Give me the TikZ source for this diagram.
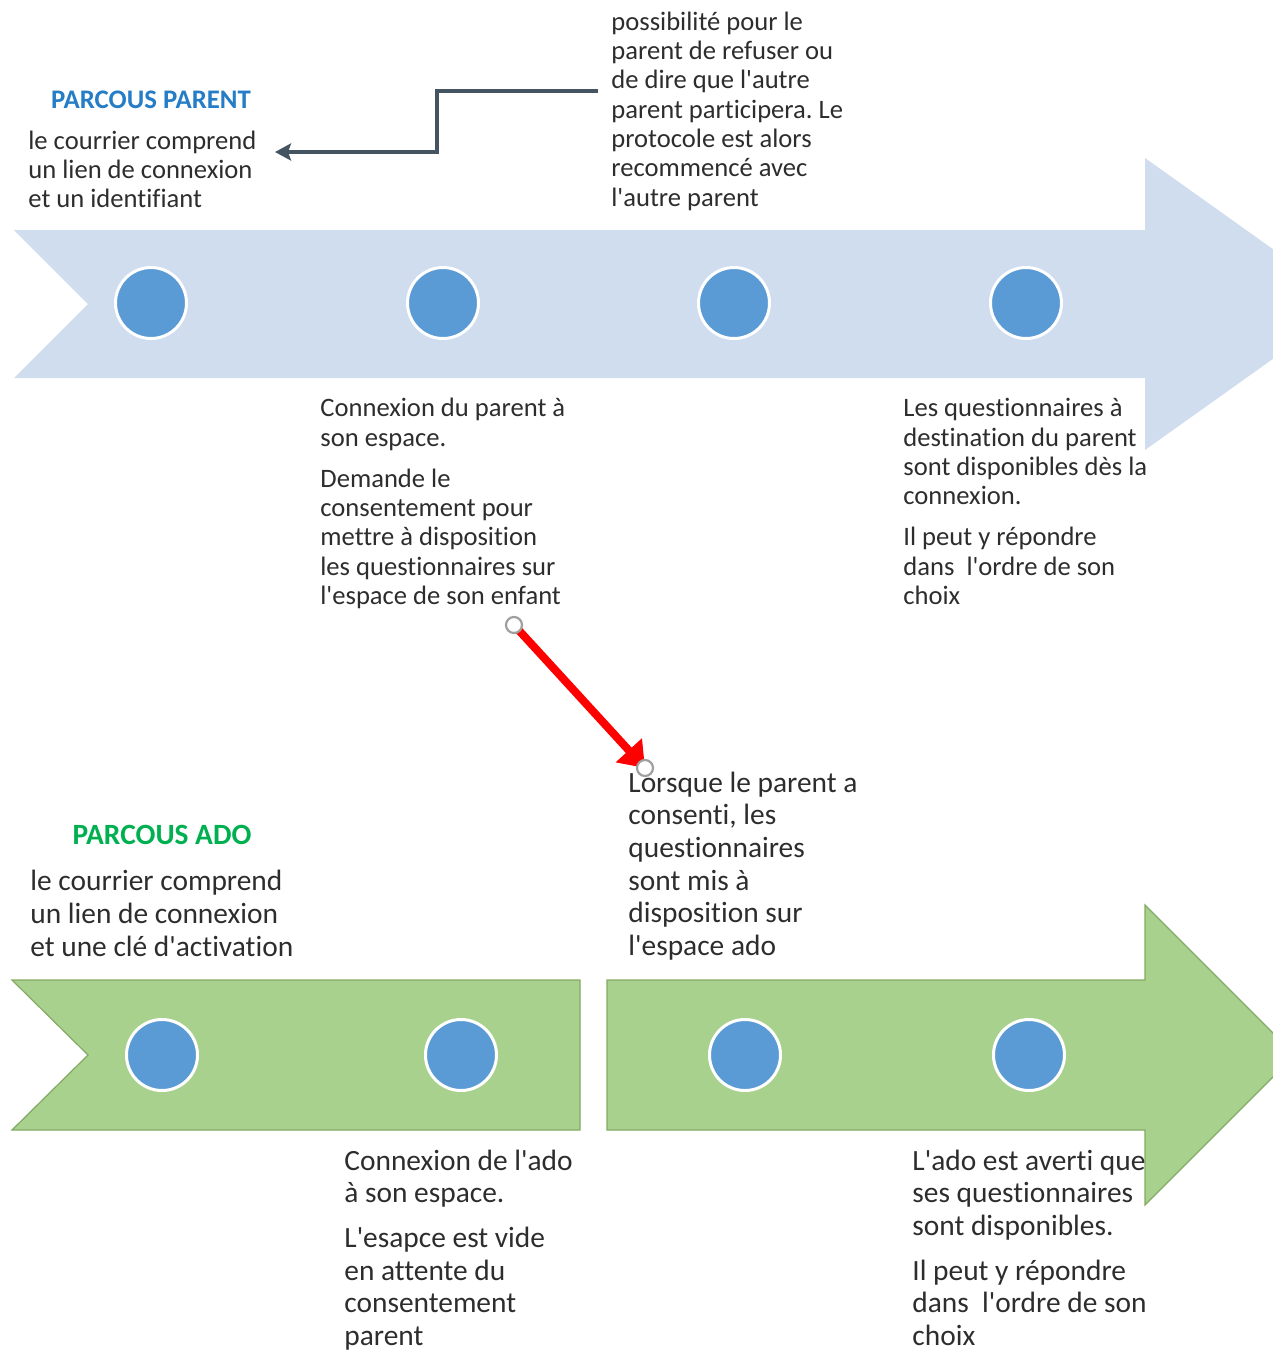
\documentclass[tikz,border=0pt]{standalone}
\usepackage{fontspec}
\setmainfont{Carlito}[Ligatures=NoCommon]
\usetikzlibrary{arrows.meta}
\definecolor{bluearrow}{RGB}{207,221,238}
\definecolor{greenarrow}{RGB}{169,209,142}
\definecolor{greenedge}{RGB}{130,170,100}
\definecolor{dotblue}{RGB}{91,155,213}
\definecolor{txtgray}{RGB}{45,45,45}
\definecolor{parentblue}{RGB}{36,125,198}
\definecolor{adogreen}{RGB}{0,176,80}
\definecolor{connslate}{RGB}{68,84,96}
\newcommand{\ap}{\textquotesingle}
\frenchspacing
\begin{document}
\begin{tikzpicture}[x=0.5pt,y=-0.5pt,
  txt/.style={font=\fontsize{13.3}{14.65}\selectfont, text=txtgray, align=left, inner sep=0pt, anchor=base west},
  txtb/.style={font=\fontsize{14.7}{16.35}\selectfont, text=txtgray, align=left, inner sep=0pt, anchor=base west},
  ttl/.style={font=\fontsize{13.4}{15}\selectfont\bfseries, inner sep=0pt, anchor=base},
  ttlb/.style={font=\fontsize{14.7}{16}\selectfont\bfseries, inner sep=0pt, anchor=base},
  dot/.style={circle, fill=dotblue, draw=white, line width=1.5pt, minimum size=35.5pt, inner sep=0pt},
  ring/.style={circle, draw=gray!75, line width=1.1pt, fill=white, minimum size=8pt, inner sep=0pt},
  conn/.style={draw=connslate, line width=2.2pt, -{Stealth[length=8pt,width=8.5pt,inset=1.5pt]}},
  redarrow/.style={draw=red, line width=4pt, -{Triangle[length=12pt,width=17pt]}}
]
\path[use as bounding box, clip] (0,0) rectangle (1273,1351);

% big arrows
\fill[bluearrow] (14,230) -- (1145,230) -- (1145,158) -- (1350,304) -- (1145,450) -- (1145,378) -- (14,378) -- (88,304) -- cycle;
\filldraw[fill=greenarrow, draw=greenedge, line width=0.6pt] (12,980) -- (580,980) -- (580,1130) -- (12,1130) -- (88,1055) -- cycle;
\filldraw[fill=greenarrow, draw=greenedge, line width=0.6pt] (607,980) -- (1145,980) -- (1145,905) -- (1295,1055) -- (1145,1205) -- (1145,1130) -- (607,1130) -- cycle;

% dots
\node[dot] (d1) at (151,303) {};
\node[dot] (d2) at (443,303) {};
\node[dot] (d3) at (734,303) {};
\node[dot] (d4) at (1026,303) {};
\node[dot] (e1) at (162,1055) {};
\node[dot] (e2) at (461,1055) {};
\node[dot] (e3) at (745,1055) {};
\node[dot] (e4) at (1029,1055) {};

% titles
\node[ttl, text=parentblue] (tparent) at (151,108) {PARCOUS PARENT};
\node[ttlb, text=adogreen] (tado) at (162,844) {PARCOUS ADO};

% texts (anchored at the baseline of their last line)
\node[txt] (ptl) at (28,207.6) {le courrier comprend\\un lien de connexion\\et un identifiant};
\node[txt] (ptr) at (611,206) {possibilité pour le\\parent de refuser ou\\de dire que l\ap autre\\parent participera. Le\\protocole est alors\\recommencé avec\\l\ap autre parent};
\node[txt] (pmid) at (320,604.5) {Connexion du parent à\\son espace.\\[6pt]Demande le\\consentement pour\\mettre à disposition\\les questionnaires sur\\l\ap espace de son enfant};
\node[txt] (prt) at (903,604.5) {Les questionnaires à\\destination du parent\\sont disponibles dès la\\connexion.\\[6pt]Il peut y répondre\\dans\ \ l\ap ordre de son\\choix};

\node[txtb] (alorsque) at (628,955.5) {Lorsque le parent a\\consenti, les\\questionnaires\\sont mis à\\disposition sur\\l\ap espace ado};
\node[txtb] (atl) at (30,956) {le courrier comprend\\un lien de connexion\\et une clé d\ap activation};
\node[txtb] (amid) at (344,1345.5) {Connexion de l\ap ado\\à son espace.\\[6pt]L\ap esapce est vide\\en attente du\\consentement\\parent};
\node[txtb] (art) at (912,1345.5) {L\ap ado est averti que\\ses questionnaires\\sont disponibles.\\[6pt]Il peut y répondre\\dans\ \ l\ap ordre de son\\choix};

% gray elbow connector
\coordinate (gA) at (598,91);
\coordinate (gB) at (275,152);
\draw[conn] (gA) -- ++(-161,0) |- (gB);

% red arrow with handles
\coordinate (rA) at (514,625);
\coordinate (rB) at (645,768);
\draw[redarrow] (rA) -- (rB);
\node[ring] (hA) at (rA) {};
\node[ring] (hB) at (rB) {};
\end{tikzpicture}
\end{document}
